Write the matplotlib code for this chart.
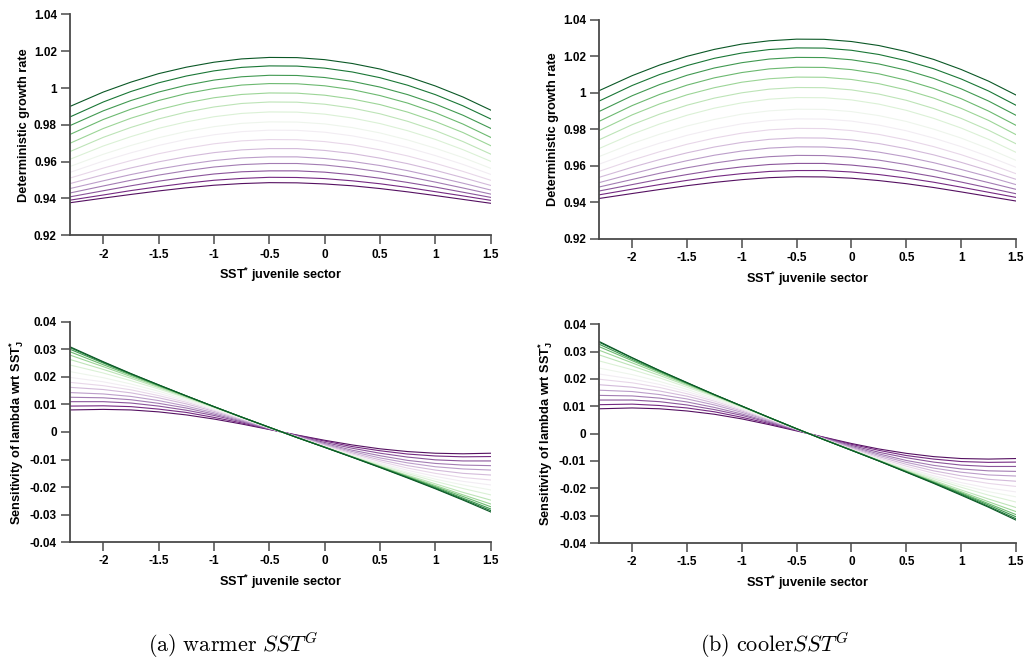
import matplotlib
matplotlib.use("Agg")
import matplotlib.pyplot as plt
from matplotlib.ticker import FixedLocator, FuncFormatter

plt.rcParams['font.family'] = ['Liberation Sans', 'DejaVu Sans']
plt.rcParams['font.weight'] = 'bold'
plt.rcParams['axes.unicode_minus'] = False
plt.rcParams['mathtext.fontset'] = 'custom'
plt.rcParams['mathtext.rm'] = 'Liberation Sans:bold'
plt.rcParams['mathtext.it'] = 'Liberation Sans:bold'
plt.rcParams['mathtext.bf'] = 'Liberation Sans:bold'

# SST* in the juvenile sector (x positions of the sampled curves)
sst_juv = [-2.3, -2.0, -1.75, -1.5, -1.25, -1.0, -0.75, -0.5,
           -0.25, 0.0, 0.25, 0.5, 0.75, 1.0, 1.25, 1.5]

# Deterministic growth rate, warmer SST^G (first row = darkest green, last = darkest purple)
growth_warm = [
    [0.9900, 0.9978, 1.0032, 1.0078, 1.0113, 1.0140, 1.0158, 1.0166, 1.0165, 1.0154, 1.0133, 1.0103, 1.0062, 1.0011, 0.9951, 0.9880],
    [0.9843, 0.9924, 0.9981, 1.0028, 1.0065, 1.0093, 1.0112, 1.0120, 1.0119, 1.0108, 1.0087, 1.0056, 1.0015, 0.9964, 0.9903, 0.9832],
    [0.9796, 0.9876, 0.9932, 0.9978, 1.0015, 1.0043, 1.0061, 1.0069, 1.0068, 1.0057, 1.0036, 1.0005, 0.9964, 0.9913, 0.9852, 0.9781],
    [0.9748, 0.9829, 0.9885, 0.9932, 0.9970, 0.9997, 1.0016, 1.0024, 1.0023, 1.0012, 0.9991, 0.9959, 0.9918, 0.9866, 0.9804, 0.9732],
    [0.9700, 0.9780, 0.9836, 0.9882, 0.9919, 0.9947, 0.9965, 0.9973, 0.9972, 0.9961, 0.9940, 0.9910, 0.9869, 0.9818, 0.9758, 0.9687],
    [0.9655, 0.9732, 0.9786, 0.9832, 0.9869, 0.9897, 0.9916, 0.9924, 0.9923, 0.9912, 0.9891, 0.9860, 0.9819, 0.9769, 0.9709, 0.9641],
    [0.9613, 0.9685, 0.9736, 0.9781, 0.9816, 0.9844, 0.9862, 0.9870, 0.9869, 0.9858, 0.9837, 0.9807, 0.9768, 0.9721, 0.9665, 0.9602],
    [0.9574, 0.9640, 0.9688, 0.9730, 0.9764, 0.9790, 0.9808, 0.9816, 0.9815, 0.9805, 0.9785, 0.9756, 0.9718, 0.9673, 0.9622, 0.9564],
    [0.9542, 0.9603, 0.9648, 0.9688, 0.9721, 0.9746, 0.9763, 0.9771, 0.9770, 0.9760, 0.9740, 0.9712, 0.9676, 0.9633, 0.9585, 0.9531],
    [0.9511, 0.9565, 0.9606, 0.9643, 0.9673, 0.9697, 0.9713, 0.9720, 0.9719, 0.9709, 0.9691, 0.9664, 0.9631, 0.9591, 0.9547, 0.9499],
    [0.9481, 0.9529, 0.9566, 0.9599, 0.9627, 0.9649, 0.9664, 0.9671, 0.9671, 0.9661, 0.9644, 0.9619, 0.9589, 0.9553, 0.9513, 0.9471],
    [0.9454, 0.9496, 0.9530, 0.9560, 0.9585, 0.9606, 0.9620, 0.9626, 0.9626, 0.9617, 0.9601, 0.9579, 0.9551, 0.9518, 0.9483, 0.9446],
    [0.9430, 0.9468, 0.9499, 0.9527, 0.9551, 0.9571, 0.9584, 0.9590, 0.9590, 0.9582, 0.9566, 0.9545, 0.9519, 0.9489, 0.9457, 0.9424],
    [0.9409, 0.9442, 0.9469, 0.9494, 0.9515, 0.9533, 0.9545, 0.9550, 0.9550, 0.9543, 0.9529, 0.9510, 0.9487, 0.9462, 0.9434, 0.9406],
    [0.9391, 0.9419, 0.9443, 0.9464, 0.9483, 0.9499, 0.9509, 0.9515, 0.9514, 0.9508, 0.9496, 0.9480, 0.9460, 0.9437, 0.9414, 0.9390],
    [0.9377, 0.9402, 0.9422, 0.9441, 0.9458, 0.9472, 0.9481, 0.9486, 0.9485, 0.9479, 0.9469, 0.9454, 0.9436, 0.9416, 0.9395, 0.9374],
]

# Deterministic growth rate, cooler SST^G
growth_cool = [
    [1.0013, 1.0095, 1.0153, 1.0201, 1.0239, 1.0268, 1.0286, 1.0295, 1.0294, 1.0282, 1.0260, 1.0227, 1.0184, 1.0129, 1.0065, 0.9989],
    [0.9956, 1.0041, 1.0101, 1.0150, 1.0190, 1.0219, 1.0238, 1.0247, 1.0246, 1.0234, 1.0211, 1.0177, 1.0133, 1.0077, 1.0011, 0.9933],
    [0.9899, 0.9985, 1.0046, 1.0097, 1.0137, 1.0166, 1.0186, 1.0195, 1.0194, 1.0182, 1.0159, 1.0125, 1.0080, 1.0023, 0.9956, 0.9878],
    [0.9845, 0.9931, 0.9992, 1.0043, 1.0083, 1.0112, 1.0132, 1.0141, 1.0140, 1.0128, 1.0105, 1.0070, 1.0025, 0.9969, 0.9901, 0.9823],
    [0.9794, 0.9880, 0.9940, 0.9990, 1.0029, 1.0059, 1.0078, 1.0087, 1.0086, 1.0074, 1.0051, 1.0017, 0.9972, 0.9916, 0.9850, 0.9772],
    [0.9744, 0.9826, 0.9884, 0.9933, 0.9972, 1.0001, 1.0021, 1.0030, 1.0029, 1.0017, 0.9994, 0.9960, 0.9915, 0.9861, 0.9796, 0.9722],
    [0.9696, 0.9774, 0.9830, 0.9878, 0.9917, 0.9946, 0.9966, 0.9975, 0.9974, 0.9962, 0.9939, 0.9905, 0.9861, 0.9808, 0.9746, 0.9675],
    [0.9652, 0.9723, 0.9774, 0.9819, 0.9855, 0.9884, 0.9902, 0.9911, 0.9910, 0.9898, 0.9876, 0.9844, 0.9802, 0.9753, 0.9695, 0.9631],
    [0.9610, 0.9676, 0.9725, 0.9768, 0.9803, 0.9831, 0.9849, 0.9858, 0.9857, 0.9846, 0.9824, 0.9793, 0.9753, 0.9706, 0.9652, 0.9593],
    [0.9571, 0.9632, 0.9678, 0.9719, 0.9753, 0.9780, 0.9798, 0.9806, 0.9805, 0.9794, 0.9773, 0.9743, 0.9706, 0.9662, 0.9612, 0.9558],
    [0.9538, 0.9593, 0.9635, 0.9672, 0.9704, 0.9729, 0.9746, 0.9754, 0.9753, 0.9743, 0.9723, 0.9695, 0.9661, 0.9620, 0.9575, 0.9527],
    [0.9509, 0.9557, 0.9595, 0.9629, 0.9659, 0.9682, 0.9698, 0.9705, 0.9704, 0.9695, 0.9676, 0.9650, 0.9618, 0.9581, 0.9541, 0.9498],
    [0.9485, 0.9526, 0.9560, 0.9590, 0.9616, 0.9637, 0.9651, 0.9658, 0.9657, 0.9648, 0.9632, 0.9608, 0.9579, 0.9545, 0.9509, 0.9472],
    [0.9463, 0.9498, 0.9527, 0.9553, 0.9577, 0.9595, 0.9608, 0.9614, 0.9614, 0.9605, 0.9590, 0.9568, 0.9542, 0.9512, 0.9480, 0.9448],
    [0.9442, 0.9473, 0.9498, 0.9521, 0.9542, 0.9558, 0.9570, 0.9575, 0.9575, 0.9567, 0.9553, 0.9534, 0.9511, 0.9484, 0.9456, 0.9428],
    [0.9422, 0.9449, 0.9471, 0.9492, 0.9510, 0.9525, 0.9536, 0.9541, 0.9540, 0.9533, 0.9520, 0.9503, 0.9482, 0.9458, 0.9433, 0.9408],
]

# Sensitivity of lambda with respect to SST*_J, warmer SST^G
sens_warm = [
    [0.0309, 0.0255, 0.0212, 0.0171, 0.0131, 0.0092, 0.0054, 0.0017, -0.0020, -0.0056, -0.0092, -0.0129, -0.0167, -0.0206, -0.0247, -0.0290],
    [0.0306, 0.0253, 0.0211, 0.0171, 0.0131, 0.0092, 0.0054, 0.0017, -0.0020, -0.0055, -0.0091, -0.0128, -0.0165, -0.0204, -0.0244, -0.0285],
    [0.0300, 0.0250, 0.0209, 0.0169, 0.0131, 0.0092, 0.0054, 0.0017, -0.0020, -0.0055, -0.0091, -0.0127, -0.0164, -0.0201, -0.0240, -0.0279],
    [0.0291, 0.0244, 0.0206, 0.0168, 0.0130, 0.0092, 0.0054, 0.0017, -0.0020, -0.0055, -0.0091, -0.0126, -0.0162, -0.0198, -0.0234, -0.0271],
    [0.0279, 0.0237, 0.0201, 0.0165, 0.0128, 0.0091, 0.0054, 0.0017, -0.0020, -0.0055, -0.0090, -0.0125, -0.0160, -0.0194, -0.0228, -0.0261],
    [0.0263, 0.0227, 0.0195, 0.0161, 0.0126, 0.0090, 0.0054, 0.0016, -0.0020, -0.0055, -0.0090, -0.0124, -0.0157, -0.0188, -0.0219, -0.0247],
    [0.0243, 0.0214, 0.0186, 0.0156, 0.0123, 0.0089, 0.0053, 0.0016, -0.0020, -0.0054, -0.0088, -0.0120, -0.0151, -0.0179, -0.0205, -0.0228],
    [0.0219, 0.0197, 0.0174, 0.0148, 0.0118, 0.0086, 0.0051, 0.0016, -0.0019, -0.0054, -0.0086, -0.0117, -0.0146, -0.0171, -0.0192, -0.0210],
    [0.0198, 0.0182, 0.0163, 0.0140, 0.0113, 0.0082, 0.0050, 0.0015, -0.0019, -0.0052, -0.0084, -0.0113, -0.0139, -0.0161, -0.0179, -0.0192],
    [0.0180, 0.0168, 0.0153, 0.0132, 0.0108, 0.0079, 0.0048, 0.0015, -0.0018, -0.0050, -0.0080, -0.0107, -0.0131, -0.0150, -0.0165, -0.0174],
    [0.0162, 0.0154, 0.0142, 0.0124, 0.0102, 0.0075, 0.0046, 0.0014, -0.0017, -0.0047, -0.0076, -0.0101, -0.0122, -0.0138, -0.0150, -0.0156],
    [0.0143, 0.0138, 0.0129, 0.0114, 0.0094, 0.0070, 0.0043, 0.0013, -0.0016, -0.0045, -0.0071, -0.0094, -0.0112, -0.0126, -0.0134, -0.0138],
    [0.0126, 0.0124, 0.0117, 0.0104, 0.0087, 0.0065, 0.0040, 0.0012, -0.0015, -0.0042, -0.0066, -0.0086, -0.0103, -0.0114, -0.0120, -0.0122],
    [0.0110, 0.0110, 0.0105, 0.0094, 0.0079, 0.0060, 0.0037, 0.0011, -0.0014, -0.0038, -0.0059, -0.0077, -0.0091, -0.0101, -0.0105, -0.0105],
    [0.0094, 0.0095, 0.0092, 0.0083, 0.0071, 0.0053, 0.0033, 0.0010, -0.0012, -0.0033, -0.0053, -0.0068, -0.0080, -0.0087, -0.0090, -0.0089],
    [0.0080, 0.0082, 0.0080, 0.0073, 0.0062, 0.0047, 0.0029, 0.0009, -0.0011, -0.0030, -0.0047, -0.0061, -0.0071, -0.0077, -0.0079, -0.0077],
]

# Sensitivity of lambda with respect to SST*_J, cooler SST^G
sens_cool = [
    [0.0337, 0.0278, 0.0231, 0.0187, 0.0143, 0.0101, 0.0059, 0.0018, -0.0022, -0.0061, -0.0100, -0.0141, -0.0182, -0.0225, -0.0269, -0.0316],
    [0.0334, 0.0277, 0.0231, 0.0186, 0.0143, 0.0101, 0.0059, 0.0018, -0.0022, -0.0061, -0.0100, -0.0140, -0.0180, -0.0222, -0.0266, -0.0311],
    [0.0327, 0.0272, 0.0228, 0.0185, 0.0142, 0.0101, 0.0059, 0.0018, -0.0022, -0.0060, -0.0099, -0.0139, -0.0179, -0.0219, -0.0261, -0.0304],
    [0.0318, 0.0267, 0.0225, 0.0183, 0.0142, 0.0100, 0.0059, 0.0018, -0.0022, -0.0060, -0.0099, -0.0138, -0.0177, -0.0216, -0.0256, -0.0296],
    [0.0305, 0.0259, 0.0220, 0.0180, 0.0140, 0.0100, 0.0059, 0.0018, -0.0022, -0.0060, -0.0099, -0.0137, -0.0175, -0.0212, -0.0249, -0.0285],
    [0.0288, 0.0248, 0.0213, 0.0176, 0.0138, 0.0099, 0.0059, 0.0018, -0.0022, -0.0060, -0.0098, -0.0135, -0.0171, -0.0206, -0.0239, -0.0270],
    [0.0266, 0.0234, 0.0204, 0.0170, 0.0135, 0.0097, 0.0058, 0.0018, -0.0021, -0.0059, -0.0096, -0.0132, -0.0165, -0.0196, -0.0225, -0.0250],
    [0.0240, 0.0216, 0.0191, 0.0162, 0.0129, 0.0094, 0.0056, 0.0017, -0.0021, -0.0059, -0.0095, -0.0129, -0.0160, -0.0188, -0.0212, -0.0231],
    [0.0218, 0.0200, 0.0180, 0.0154, 0.0124, 0.0091, 0.0055, 0.0017, -0.0021, -0.0058, -0.0093, -0.0126, -0.0154, -0.0179, -0.0199, -0.0213],
    [0.0199, 0.0186, 0.0169, 0.0146, 0.0119, 0.0087, 0.0053, 0.0016, -0.0020, -0.0056, -0.0089, -0.0119, -0.0145, -0.0166, -0.0182, -0.0193],
    [0.0179, 0.0170, 0.0156, 0.0137, 0.0112, 0.0083, 0.0050, 0.0016, -0.0019, -0.0053, -0.0084, -0.0112, -0.0136, -0.0154, -0.0167, -0.0174],
    [0.0159, 0.0154, 0.0143, 0.0127, 0.0105, 0.0078, 0.0048, 0.0015, -0.0018, -0.0050, -0.0079, -0.0105, -0.0126, -0.0141, -0.0151, -0.0155],
    [0.0140, 0.0138, 0.0130, 0.0116, 0.0096, 0.0072, 0.0044, 0.0014, -0.0017, -0.0047, -0.0074, -0.0098, -0.0116, -0.0129, -0.0136, -0.0138],
    [0.0123, 0.0123, 0.0117, 0.0105, 0.0088, 0.0067, 0.0041, 0.0013, -0.0016, -0.0043, -0.0068, -0.0088, -0.0104, -0.0115, -0.0120, -0.0120],
    [0.0106, 0.0108, 0.0103, 0.0094, 0.0080, 0.0060, 0.0037, 0.0012, -0.0014, -0.0039, -0.0061, -0.0080, -0.0093, -0.0102, -0.0105, -0.0104],
    [0.0091, 0.0094, 0.0091, 0.0083, 0.0071, 0.0054, 0.0033, 0.0010, -0.0013, -0.0036, -0.0056, -0.0072, -0.0084, -0.0091, -0.0093, -0.0091],
]

x_ticks = [-2.0, -1.5, -1.0, -0.5, 0.0, 0.5, 1.0, 1.5]
growth_ticks = [0.92, 0.94, 0.96, 0.98, 1.00, 1.02, 1.04]
sens_ticks = [-0.04, -0.03, -0.02, -0.01, 0.0, 0.01, 0.02, 0.03, 0.04]
captions = [r"$\mathrm{(a)\ warmer}\ SST^{G}$", r"$\mathrm{(b)\ cooler}SST^{G}$"]

# purple-to-green diverging palette, darkest green for the top curve
cmap = plt.get_cmap('PRGn')
n_curves = len(growth_warm)
colors = [cmap(0.96 - 0.92 * i / (n_curves - 1)) for i in range(n_curves)]

AXIS_COLOR = '#4a4a4a'


def fmt(v, pos):
    s = f"{v:.2f}".rstrip('0').rstrip('.')
    return '0' if s in ('-0', '') else s


def draw_panel(ax, curves, yticks, ylabel):
    for i in reversed(range(len(curves))):
        ax.plot(sst_juv, curves[i], color=colors[i], lw=0.8,
                solid_joinstyle='round')
    ax.set_xlim(-2.3, 1.5)
    ax.set_ylim(yticks[0], yticks[-1])
    for side in ('top', 'right'):
        ax.spines[side].set_visible(False)
    for side in ('left', 'bottom'):
        ax.spines[side].set_color(AXIS_COLOR)
        ax.spines[side].set_linewidth(1.3)
    ax.xaxis.set_major_locator(FixedLocator(x_ticks))
    ax.yaxis.set_major_locator(FixedLocator(yticks))
    ax.xaxis.set_major_formatter(FuncFormatter(fmt))
    ax.yaxis.set_major_formatter(FuncFormatter(fmt))
    ax.tick_params(direction='out', length=6.5, width=1.1, color=AXIS_COLOR,
                   labelsize=8.5, pad=3)
    for lab in ax.get_xticklabels() + ax.get_yticklabels():
        lab.set_fontweight('bold')
    ax.set_xlabel(r"SST$^{*}$ juvenile sector", fontsize=9.2, fontweight='bold',
                  labelpad=4)
    ax.set_ylabel(ylabel, fontsize=9.2, fontweight='bold', labelpad=3)


fig = plt.figure(figsize=(10.27, 6.64), dpi=100)
ax_tl = fig.add_axes([0.0682, 0.6456, 0.4096, 0.3328])
ax_tr = fig.add_axes([0.5835, 0.6401, 0.4057, 0.3298])
ax_bl = fig.add_axes([0.0682, 0.1833, 0.4096, 0.3322])
ax_br = fig.add_axes([0.5835, 0.1822, 0.4057, 0.3294])

growth_label = "Deterministic growth rate"
sens_label = r"Sensitivity of lambda wrt SST$^{*}_{J}$"

draw_panel(ax_tl, growth_warm, growth_ticks, growth_label)
draw_panel(ax_tr, growth_cool, growth_ticks, growth_label)
draw_panel(ax_bl, sens_warm, sens_ticks, sens_label)
draw_panel(ax_br, sens_cool, sens_ticks, sens_label)

fig.text(233 / 1027, 1 - 645 / 664, captions[0], math_fontfamily='cm',
         fontsize=16, ha='center', va='center')
fig.text(775 / 1027, 1 - 645 / 664, captions[1], math_fontfamily='cm',
         fontsize=16, ha='center', va='center')

fig.savefig("out.png", dpi=100)
